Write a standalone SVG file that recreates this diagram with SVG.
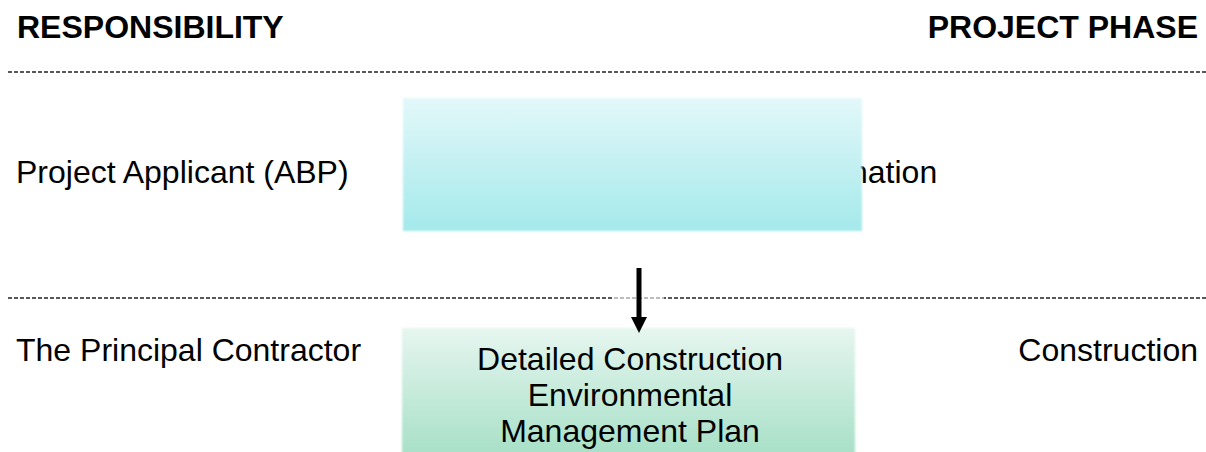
<svg xmlns="http://www.w3.org/2000/svg" width="1206" height="452" viewBox="0 0 1206 452">
<style>
.h{font-family:"Liberation Sans",Arial,sans-serif;font-size:32px;font-weight:bold;fill:#000}
.t{font-family:"Liberation Sans",Arial,sans-serif;font-size:32px;fill:#000}
.dash{stroke:#222;stroke-width:1.3;stroke-dasharray:4 2;fill:none}
</style>
<defs>
<linearGradient id="gBlue" x1="0" y1="0" x2="0" y2="1">
<stop offset="0" stop-color="#e3f8fa"/>
<stop offset="1" stop-color="#a4e9eb"/>
</linearGradient>
<linearGradient id="gGreen" x1="0" y1="0" x2="0" y2="1">
<stop offset="0" stop-color="#e6f6f0"/>
<stop offset="1" stop-color="#a6dfc6"/>
</linearGradient>
<filter id="soft" x="-5%" y="-5%" width="110%" height="110%"><feGaussianBlur stdDeviation="1.2"/></filter>
<marker id="ah" viewBox="0 0 16 16" refX="0" refY="8" markerWidth="16" markerHeight="16" markerUnits="userSpaceOnUse" orient="auto">
<path d="M0,0 L16,8 L0,16 Z" fill="#000"/>
</marker>
</defs>
<g id="headers">
<text class="h" x="17" y="38">RESPONSIBILITY</text>
<text class="h" x="1198" y="38" text-anchor="end">PROJECT PHASE</text>
</g>
<g id="dividers">
<line class="dash" x1="8" y1="72" x2="1206" y2="72"/>
<line class="dash" x1="8" y1="298" x2="1206" y2="298"/>
</g>
<g id="row-labels">
<text class="t" x="16" y="183">Project Applicant (ABP)</text>
<text class="t" x="850" y="183">nation</text>
<text class="t" x="16" y="361">The Principal Contractor</text>
<text class="t" x="1198" y="361" text-anchor="end">Construction</text>
</g>
<g id="node-top">
<rect x="403" y="98" width="459" height="133" fill="url(#gBlue)" filter="url(#soft)"/>
</g>
<g id="node-bottom">
<rect x="402" y="328" width="453" height="130" fill="url(#gGreen)" filter="url(#soft)"/>
<text class="t" text-anchor="middle" x="630" y="370">Detailed Construction</text>
<text class="t" text-anchor="middle" x="630" y="406">Environmental</text>
<text class="t" text-anchor="middle" x="630" y="442">Management Plan</text>
</g>
<g id="connectors">
<rect x="613" y="263" width="51" height="63" fill="#fff" opacity="0.6"/>
<line x1="639" y1="268" x2="639" y2="317" stroke="#000" stroke-width="5" marker-end="url(#ah)"/>
</g>
</svg>
